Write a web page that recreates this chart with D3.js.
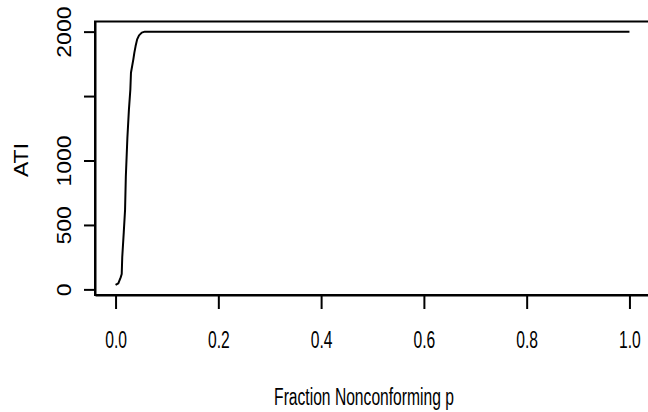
<!DOCTYPE html>
<html>
<head>
<meta charset="utf-8">
<script src="https://cdn.jsdelivr.net/npm/d3@7"></script>
<style>
  html, body { margin: 0; padding: 0; background: #fff; }
  svg { display: block; }
  text { font-family: "Liberation Sans", Arial, sans-serif; fill: #000; }
</style>
</head>
<body>
<script>
// ---- data ----
const pValues   = [0, 0.0054, 0.010, 0.012, 0.013, 0.016, 0.0185, 0.020, 0.023, 0.026, 0.0288, 0.030, 0.0346, 0.0366, 0.039, 0.042, 0.0457, 0.051, 0.057, 0.1, 0.2, 0.4, 0.6, 0.8, 1.0];
const atiValues = [35, 47, 93, 119, 249, 444, 617, 876, 1175, 1395, 1551, 1681, 1785, 1837, 1888, 1940, 1971, 1992, 2000, 2000, 2000, 2000, 2000, 2000, 2000];
const xTicks = [0, 0.2, 0.4, 0.6, 0.8, 1.0];
const xTickLabels = ["0.0", "0.2", "0.4", "0.6", "0.8", "1.0"];
const yTicks = [0, 500, 1000, 1500, 2000];
const yTickLabels = ["0", "500", "1000", "", "2000"];
const xTitle = "Fraction Nonconforming p";
const yTitle = "ATI";

const W = 648, H = 412;
const svg = d3.select("body").append("svg").attr("width", W).attr("height", H);

const xMin = 0, xMax = 1;
const yMin = d3.min(atiValues), yMax = d3.max(atiValues);
const xPad = 0.04 * (xMax - xMin), yPad = 0.04 * (yMax - yMin);

const x = d3.scaleLinear().domain([xMin - xPad, xMax + xPad]).range([95, 650]);
const y = d3.scaleLinear().domain([yMin - yPad, yMax + yPad]).range([295, 21.5]);

const data = pValues.map((p, i) => ({p, a: atiValues[i]}));

// plot box
svg.append("rect")
  .attr("x", x.range()[0]).attr("y", y.range()[1])
  .attr("width", x.range()[1] - x.range()[0])
  .attr("height", y.range()[0] - y.range()[1])
  .attr("fill", "none").attr("stroke", "#000").attr("stroke-width", 2);

// curve
svg.append("path")
  .datum(data)
  .attr("fill", "none").attr("stroke", "#000").attr("stroke-width", 2)
  .attr("stroke-linejoin", "round")
  .attr("d", d3.line().x(d => x(d.p)).y(d => y(d.a)));

// x axis
const gx = svg.append("g").attr("transform", `translate(0,${y.range()[0]})`)
  .call(d3.axisBottom(x).tickValues(xTicks).tickSize(14).tickSizeOuter(0)
    .tickFormat((d, i) => xTickLabels[i]));
gx.select(".domain").attr("stroke", "#000").attr("stroke-width", 2);
gx.selectAll(".tick line").attr("stroke", "#000").attr("stroke-width", 2);
gx.selectAll(".tick text")
  .attr("y", 53).attr("dy", 0)
  .attr("transform", "scale(0.68,1)")
  .style("font-size", "23px").style("font-family", '"Liberation Sans", Arial, sans-serif').attr("fill", "#000");

// y axis
const gy = svg.append("g").attr("transform", `translate(${x.range()[0]},0)`)
  .call(d3.axisLeft(y).tickValues(yTicks).tickSize(11).tickSizeOuter(0)
    .tickFormat((d, i) => yTickLabels[i]));
gy.select(".domain").attr("stroke", "#000").attr("stroke-width", 2);
gy.selectAll(".tick line").attr("stroke", "#000").attr("stroke-width", 2);
gy.selectAll(".tick text")
  .attr("x", 0).attr("y", 0).attr("dy", 0)
  .attr("text-anchor", "middle")
  .attr("transform", "translate(-24,0) scale(0.85,1) rotate(-90)")
  .style("font-size", "23px").style("font-family", '"Liberation Sans", Arial, sans-serif').attr("fill", "#000");

// titles
svg.append("text")
  .attr("text-anchor", "middle")
  .attr("transform", "translate(364,405) scale(0.68,1)")
  .style("font-size", "23px")
  .text(xTitle);

svg.append("text")
  .attr("text-anchor", "middle")
  .attr("transform", "translate(28,160) scale(0.85,1) rotate(-90)")
  .style("font-size", "23px")
  .text(yTitle);
</script>
</body>
</html>
